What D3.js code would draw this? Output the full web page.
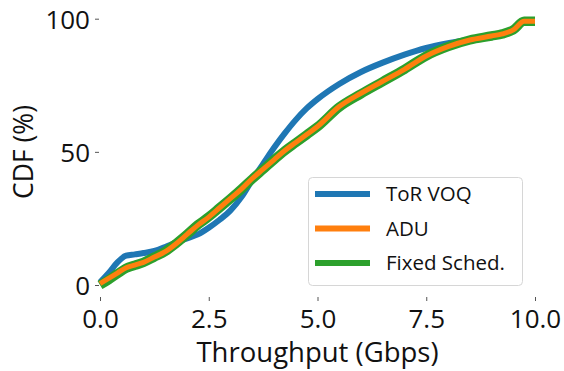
<!DOCTYPE html>
<html>
<head>
<meta charset="utf-8">
<script src="https://cdn.jsdelivr.net/npm/d3@7"></script>
<style>
  body { margin: 0; background: #fff; }
  text { font-family: "Open Sans", sans-serif; fill: #111; }
</style>
</head>
<body>
<div id="container"></div>
<script>
// Data.
const throughput = [0, 0.2, 0.4, 0.6, 0.8, 1.0, 1.25, 1.5, 1.75, 2.0, 2.25, 2.5, 2.75, 3.0, 3.25, 3.5, 3.75,
  4.0, 4.25, 4.5, 4.75, 5.0, 5.5, 6.0, 6.5, 7.0, 7.5, 8.0, 8.5, 9.0, 9.25, 9.5, 9.75, 10.0];
const torVoq = [1, 4.5, 8.5, 11, 11.5, 12, 12.8, 14.3, 16, 17.5, 19, 21.5, 24.5, 28, 33, 39.5, 45.5,
  51.5, 57, 62, 66.3, 69.8, 75.5, 80, 83.5, 86.5, 89, 90.8, 92.2, 93.6, 94.4, 95.8, 99, 99];
const adu = [0.5, 2.5, 4.5, 6.5, 7.5, 8.5, 10.5, 12.5, 15.5, 19, 22.5, 25.5, 29, 32.5, 36, 40, 43.5,
  47, 50.5, 53.5, 56.5, 59.5, 67, 72, 76.5, 81, 86, 89.5, 92, 93.5, 94.3, 95.8, 99, 99];
const fixedSched = [0, 2, 4.2, 6.3, 7.4, 8.5, 10.5, 12.6, 15.6, 19, 22.6, 25.6, 29, 32.4, 36, 39.8, 43.4,
  47, 50.4, 53.4, 56.4, 59.4, 66.8, 71.8, 76.4, 81, 86, 89.5, 92, 93.5, 94.3, 95.8, 99, 99];
const seriesNames = ['ToR VOQ', 'ADU', 'Fixed Sched.'];
const seriesColors = ['#1f77b4', '#ff7f0e', '#2ca02c'];
const xTicks = [0, 2.5, 5, 7.5, 10];
const yTicks = [0, 50, 100];

const width = 564, height = 371;

const svg = d3.select('#container')
  .append('svg')
  .attr('width', width)
  .attr('height', height);

const x = d3.scaleLinear().domain([0, 10]).range([100, 535]);
const y = d3.scaleLinear().domain([0, 100]).range([285, 18.7]);

// Axes, no spines.
const xAxis = svg.append('g')
  .attr('transform', 'translate(0, 297)')
  .call(d3.axisBottom(x).tickValues(xTicks).tickFormat(d3.format('.1f')).tickSize(4));
xAxis.select('.domain').remove();
xAxis.selectAll('line').attr('stroke', '#555');
xAxis.selectAll('text')
  .attr('y', 31).attr('dy', null)
  .attr('font-size', 26).attr('font-family', null);

const yAxis = svg.append('g')
  .attr('transform', 'translate(99, 0)')
  .call(d3.axisLeft(y).tickValues(yTicks).tickSize(4));
yAxis.select('.domain').remove();
yAxis.selectAll('line').attr('stroke', '#555');
yAxis.selectAll('text')
  .attr('x', -9).attr('dy', '0.36em')
  .attr('font-size', 26).attr('font-family', null);

svg.append('text')
  .attr('x', 317.5).attr('y', 362)
  .attr('text-anchor', 'middle')
  .attr('font-size', 27.5)
  .text('Throughput (Gbps)');

svg.append('text')
  .attr('transform', 'translate(33, 152) rotate(-90)')
  .attr('text-anchor', 'middle')
  .attr('font-size', 26.5)
  .text('CDF (%)');

// Lines.
const line = d3.line()
  .x((d, i) => x(throughput[i]))
  .y(d => y(d))
  .curve(d3.curveMonotoneX);

const drawOrder = [
  { values: torVoq, color: seriesColors[0], w: 6 },
  { values: fixedSched, color: seriesColors[2], w: 9.5 },
  { values: adu, color: seriesColors[1], w: 5 }
];

svg.append('g')
  .selectAll('path')
  .data(drawOrder)
  .enter()
  .append('path')
  .attr('d', d => line(d.values))
  .attr('fill', 'none')
  .attr('stroke', d => d.color)
  .attr('stroke-width', d => d.w)
  .attr('stroke-linejoin', 'round');

// Legend.
const gLegend = svg.append('g').attr('class', 'legend');

gLegend.append('rect')
  .attr('x', 308.5).attr('y', 177.5)
  .attr('width', 214).attr('height', 108)
  .attr('rx', 4)
  .attr('fill', '#fff').attr('fill-opacity', 0.8)
  .attr('stroke', '#d6d6d6');

const legendKey = gLegend.selectAll('.legend__key')
  .data(seriesNames)
  .enter()
  .append('g')
  .attr('class', 'legend__key')
  .attr('transform', (d, i) => `translate(0, ${194 + i * 34.5})`);

legendKey.append('line')
  .attr('x1', 315).attr('x2', 370)
  .attr('stroke', (d, i) => seriesColors[i])
  .attr('stroke-width', 6);

legendKey.append('text')
  .attr('x', 386).attr('dy', '0.36em')
  .attr('font-size', 20.5)
  .text(d => d);
</script>
</body>
</html>
